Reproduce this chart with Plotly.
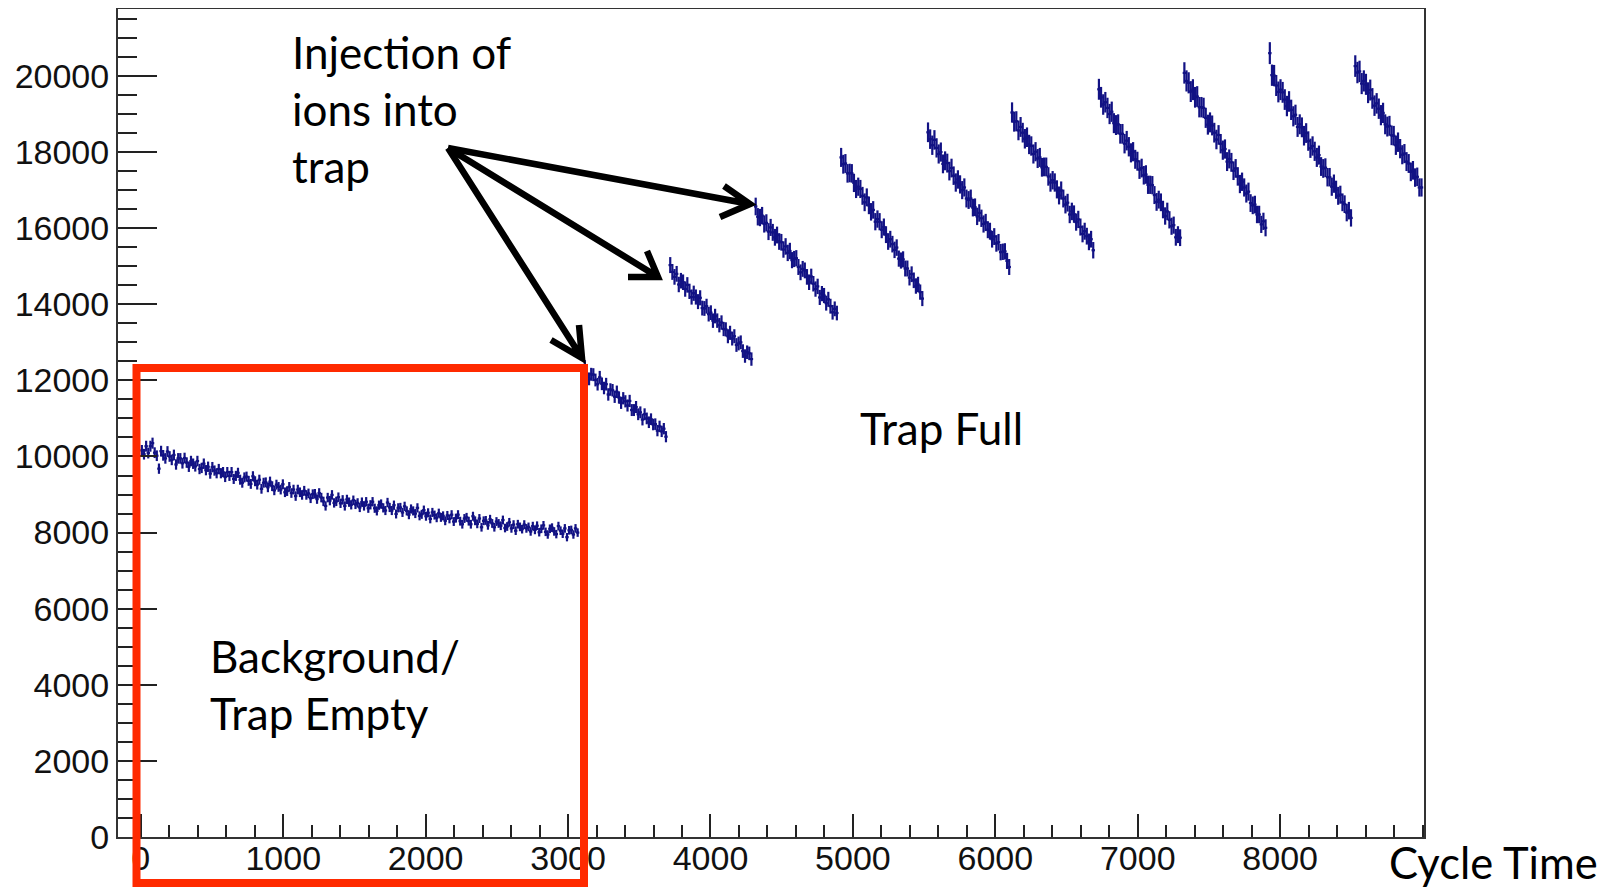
import plotly.graph_objects as go

# ---------------- data ----------------
BIN_WIDTH = 15

background_start = 0
background_counts = [
    10160, 10060, 10270, 10090, 10270, 10350, 10100, 10020, 9680, 10140,
    10030, 9950, 10130, 10000, 9910, 10040, 9790, 9950, 9950, 9820,
    9960, 9840, 9730, 9880, 9810, 9740, 9880, 9670, 9700, 9810,
    9640, 9730, 9550, 9720, 9630, 9560, 9670, 9560, 9590, 9460,
    9590, 9490, 9590, 9410, 9490, 9570, 9390, 9310, 9450, 9470,
    9360, 9280, 9480, 9350, 9260, 9390, 9150, 9310, 9320, 9190,
    9340, 9220, 9110, 9260, 9200, 9130, 9270, 9060, 9090, 9200,
    9040, 9130, 8960, 9130, 9060, 8990, 9100, 8990, 9030, 8900,
    9010, 9020, 8880, 9040, 8920, 8820, 8700, 8920, 8840, 8990,
    8780, 8820, 8930, 8770, 8860, 8700, 8870, 8800, 8730, 8850,
    8740, 8780, 8660, 8800, 8700, 8810, 8640, 8730, 8810, 8640,
    8570, 8720, 8750, 8650, 8580, 8790, 8660, 8580, 8720, 8490,
    8650, 8660, 8530, 8690, 8570, 8470, 8620, 8570, 8500, 8650,
    8440, 8480, 8590, 8430, 8520, 8360, 8530, 8460, 8390, 8510,
    8400, 8440, 8310, 8450, 8360, 8470, 8290, 8380, 8470, 8300,
    8220, 8370, 8400, 8300, 8220, 8430, 8310, 8230, 8370, 8140,
    8310, 8320, 8190, 8350, 8240, 8140, 8290, 8240, 8180, 8330,
    8120, 8160, 8270, 8110, 8210, 8050, 8220, 8150, 8090, 8210,
    8110, 8150, 8030, 8170, 8070, 8180, 8010, 8100, 8190, 8020,
    7950, 8100, 8130, 8030, 7960, 8170, 8050, 7970, 8110, 7880,
    8060, 8070, 7950, 8110, 8000,
]

injection_starts = [3110, 3710, 4310, 4910, 5520, 6110, 6720, 7320, 7920, 8520]

fill_1 = [12360, 12160, 12040, 12160, 12150, 12010, 11900, 12080, 11910, 11800,
          11900, 11630, 11760, 11740, 11570, 11700, 11550, 11410, 11530, 11450,
          11340, 11460, 11220, 11220, 11300, 11110, 11160, 10970, 11110, 11000,
          10900, 10980, 10840, 10850, 10680, 10790, 10660, 10730, 10520]
fill_2 = [15030, 14850, 14720, 14800, 14520, 14620, 14580, 14400, 14510, 14340,
          14190, 14290, 14190, 14070, 14170, 13900, 13890, 13950, 13740, 13780,
          13570, 13690, 13570, 13450, 13520, 13350, 13340, 13160, 13250, 13100,
          13160, 12930, 12970, 13000, 12770, 12640, 12740, 12710, 12560]
fill_3 = [16570, 16300, 16280, 16330, 16110, 16140, 15910, 16020, 15890, 15760,
          15820, 15650, 15630, 15440, 15520, 15350, 15400, 15160, 15190, 15210,
          14980, 14840, 14930, 14890, 14720, 14580, 14730, 14540, 14400, 14470,
          14180, 14280, 14230, 14030, 14130, 13950, 13790, 13880, 13770]
fill_4 = [17860, 17680, 17700, 17440, 17450, 17440, 17190, 17030, 17090, 17030,
          16850, 16680, 16810, 16600, 16430, 16480, 16170, 16240, 16170, 15960,
          16030, 15830, 15650, 15710, 15580, 15430, 15490, 15200, 15150, 15180,
          14940, 14940, 14700, 14790, 14630, 14480, 14520, 14320, 14150]
fill_5 = [18520, 18340, 18180, 18320, 18110, 17950, 18000, 17690, 17770, 17710,
          17500, 17580, 17380, 17200, 17280, 17150, 17000, 17070, 16780, 16740,
          16780, 16540, 16550, 16310, 16400, 16260, 16110, 16150, 15960, 15920,
          15710, 15780, 15600, 15630, 15370, 15380, 15390, 15140, 14980]
fill_6 = [19040, 18800, 18810, 18570, 18660, 18510, 18350, 18390, 18200, 18160,
          17950, 18010, 17830, 17860, 17600, 17610, 17610, 17360, 17200, 17260,
          17200, 17020, 16860, 16990, 16780, 16620, 16670, 16360, 16440, 16370,
          16160, 16230, 16030, 15850, 15920, 15790, 15640, 15710, 15420]
fill_7 = [19650, 19440, 19250, 19310, 19160, 19000, 19060, 18760, 18710, 18730,
          18480, 18480, 18220, 18300, 18140, 17980, 18010, 17810, 17760, 17540,
          17580, 17390, 17410, 17140, 17140, 17130, 16870, 16690, 16750, 16680,
          16490, 16320, 16440, 16220, 16050, 16080, 15760, 15830, 15750]
fill_8 = [20080, 19870, 19820, 19590, 19640, 19440, 19460, 19180, 19180, 19160,
          18900, 18720, 18780, 18700, 18510, 18330, 18450, 18220, 18050, 18080,
          17750, 17820, 17730, 17510, 17570, 17360, 17160, 17220, 17070, 16910,
          16960, 16660, 16600, 16620, 16360, 16360, 16100, 16180, 16010]
fill_9 = [20600, 20020, 20010, 19750, 19580, 19640, 19570, 19380, 19210, 19330,
          19110, 18940, 18980, 18660, 18730, 18650, 18430, 18500, 18290, 18100,
          18160, 18020, 17860, 17920, 17620, 17570, 17590, 17340, 17340, 17090,
          17170, 17010, 16850, 16880, 16680, 16630, 16410, 16460, 16270]
fill_10 = [20260, 20090, 20120, 19800, 19870, 19780, 19560, 19630, 19410, 19220,
           19280, 19140, 18970, 19030, 18730, 18670, 18690, 18440, 18430, 18180,
           18260, 18090, 17930, 17960, 17750, 17700, 17480, 17520, 17330, 17350,
           17070, 17070]

fills = [fill_1, fill_2, fill_3, fill_4, fill_5, fill_6, fill_7, fill_8, fill_9, fill_10]

x_ticks = [0, 1000, 2000, 3000, 4000, 5000, 6000, 7000, 8000]
y_ticks = [0, 2000, 4000, 6000, 8000, 10000, 12000, 14000, 16000, 18000, 20000]

# ---------------- build histogram bins ----------------
xs, ys = [], []
for i, v in enumerate(background_counts):
    xs.append(background_start + BIN_WIDTH * (i + 0.5))
    ys.append(v)
for start, vals in zip(injection_starts, fills):
    for i, v in enumerate(vals):
        xs.append(start + BIN_WIDTH * (i + 0.5))
        ys.append(v)

NAVY = "#121284"

fig = go.Figure()
fig.add_trace(go.Scatter(
    x=xs, y=ys, mode="markers",
    marker=dict(size=2, color=NAVY),
    error_y=dict(type="percent", value=1.4, width=0, thickness=2.2, color=NAVY),
    error_x=dict(type="constant", value=12, width=0, thickness=2.2, color=NAVY),
    showlegend=False, hoverinfo="x+y",
))

# ---------------- layout ----------------
# The page body adds an 8 px offset, so the figure is 8 px smaller than the window.
OFF = 8
W, H = 1613 - OFF, 887 - OFF
L, R, T, B = 110, 189, 1, 50
PW, PH = W - L - R, H - T - B


def P(px, py):
    """page pixel -> paper coordinates"""
    return (px - OFF - L) / PW, (H - B - (py - OFF)) / PH


axis_common = dict(
    showline=True, linecolor="#333333", linewidth=2, mirror=True, automargin=False,
    showgrid=False, zeroline=False, ticks="inside", tickcolor="#222222", tickwidth=1.5,
    tickfont=dict(family="Liberation Sans", size=34, color="#111111"),
)

fig.update_layout(
    width=W, height=H, autosize=False,
    margin=dict(l=L, r=R, t=T, b=B, pad=0),
    paper_bgcolor="white", plot_bgcolor="white",
    xaxis=dict(
        range=[-160, 9010], tickvals=x_ticks, ticktext=[str(v) for v in x_ticks],
        ticklen=23, ticklabelstandoff=-10,
        minor=dict(ticks="inside", ticklen=12, dtick=200, tick0=0, tickcolor="#222222",
                   tickwidth=1.5, showgrid=False),
        **axis_common,
    ),
    yaxis=dict(
        range=[0, 21760], tickvals=y_ticks, ticktext=[str(v) for v in y_ticks],
        ticklen=39,
        minor=dict(ticks="inside", ticklen=19, dtick=500, tick0=0, tickcolor="#222222",
                   tickwidth=1.5, showgrid=False),
        **axis_common,
    ),
)

# red box around background region
x0, y1 = P(136.5, 368)
x1, y0 = P(584, 883)
shapes = [dict(type="rect", xref="paper", yref="paper", x0=x0, y0=y0, x1=x1, y1=y1,
               line=dict(color="#ff2a00", width=8), fillcolor="rgba(0,0,0,0)", layer="above")]

# arrows
origin = (448, 148)
arrows = [
    ((750, 204), (724, 186), (720, 217)),
    ((658, 277), (647, 251), (628, 277)),
    ((582, 358), (579, 325), (551, 340)),
]


def path_from(points_seq):
    parts = []
    for seq in points_seq:
        for k, (px, py) in enumerate(seq):
            xp, yp = P(px, py)
            parts.append(("M" if k == 0 else "L") + f"{xp:.5f},{yp:.5f}")
    return " ".join(parts)


for tip, a1, a2 in arrows:
    shapes.append(dict(type="path", xref="paper", yref="paper",
                       path=path_from([[origin, tip], [a1, tip, a2]]),
                       line=dict(color="black", width=6.5), layer="above"))

fig.update_layout(shapes=shapes)

TEXT_FONT = dict(family="Lato", size=44, color="black")


def note(text, px, py, size=44):
    xp, yp = P(px, py)
    fig.add_annotation(x=xp, y=yp, xref="paper", yref="paper", text=text,
                       showarrow=False, xanchor="left", yanchor="middle",
                       align="left", font=dict(TEXT_FONT, size=size))


note("Injection of<br>ions into<br>trap", 290, 109.5)
note("Trap Full", 858, 428)
note("Background/<br>Trap Empty", 208, 684)
note("Cycle Time", 1387, 862, size=43.5)

fig.write_html("out.html")
